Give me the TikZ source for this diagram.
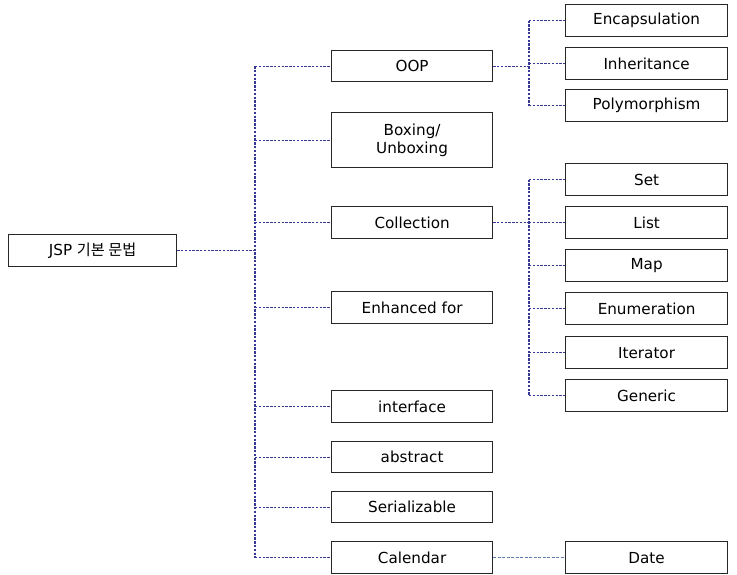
\documentclass[tikz,border=0pt]{standalone}
\usepackage{fontspec}
\setmainfont{DejaVu Sans}
\newfontfamily\krfont{Noto Sans CJK KR}
\definecolor{linkblue}{RGB}{55,55,150}
\definecolor{linkpale}{RGB}{95,125,175}
\begin{document}
\begin{tikzpicture}[x=1pt,y=-1pt,
  box/.style={draw=black!85, line width=1.2pt, fill=white, inner sep=0pt, anchor=north west,
    font=\fontsize{15.2}{18}\selectfont, align=center},
  link/.style={draw=linkblue, line width=1.2pt, dash pattern=on 2.4pt off 1.4pt},
  link2/.style={draw=linkpale, line width=1pt, dash pattern=on 3pt off 1.5pt}]
\useasboundingbox (0,0) rectangle (737,574);
% root
\node[box, minimum width=168pt, minimum height=32pt] (root) at (8,234) {JSP {\krfont 기본 문법}};
% first level
\foreach \n/\t/\y/\h in {oop/OOP/50/31, box/{Boxing/\\Unboxing}/112/55, coll/Collection/206/32,
    enh/Enhanced for/291/32, intf/interface/390/32, abs/abstract/441/31,
    ser/Serializable/491/31, cal/Calendar/541/32}
  \node[box, minimum width=161pt, minimum height=\h pt] (\n) at (331,\y) {\t};
% second level
\foreach \n/\t/\y in {enc/Encapsulation/4, inh/Inheritance/47, poly/Polymorphism/89,
    set/Set/163, list/List/206, map/Map/249, enum/Enumeration/292, iter/Iterator/336,
    gen/Generic/379, date/Date/541}
  \node[box, minimum width=162pt, minimum height=32pt] (\n) at (565,\y) {\t};
% trunk from the root
\coordinate (t0) at (255,0);
\draw[link] (root.east) -- (root.east -| t0);
\draw[link] (oop.west -| t0) -- (cal.west -| t0);
\foreach \n in {oop,box,coll,enh,intf,abs,ser,cal}
  \draw[link] (\n.west -| t0) -- (\n.west);
% OOP branch
\coordinate (t1) at (529,0);
\draw[link] (oop.east) -- (oop.east -| t1);
\draw[link] (enc.west -| t1) -- (poly.west -| t1);
\foreach \n in {enc,inh,poly}
  \draw[link] (\n.west -| t1) -- (\n.west);
% Collection branch
\draw[link] (coll.east) -- (coll.east -| t1);
\draw[link] (set.west -| t1) -- (gen.west -| t1);
\foreach \n in {set,list,map,enum,iter,gen}
  \draw[link] (\n.west -| t1) -- (\n.west);
% Calendar to Date
\draw[link2] (cal.east) -- (date.west);
\end{tikzpicture}
\end{document}
